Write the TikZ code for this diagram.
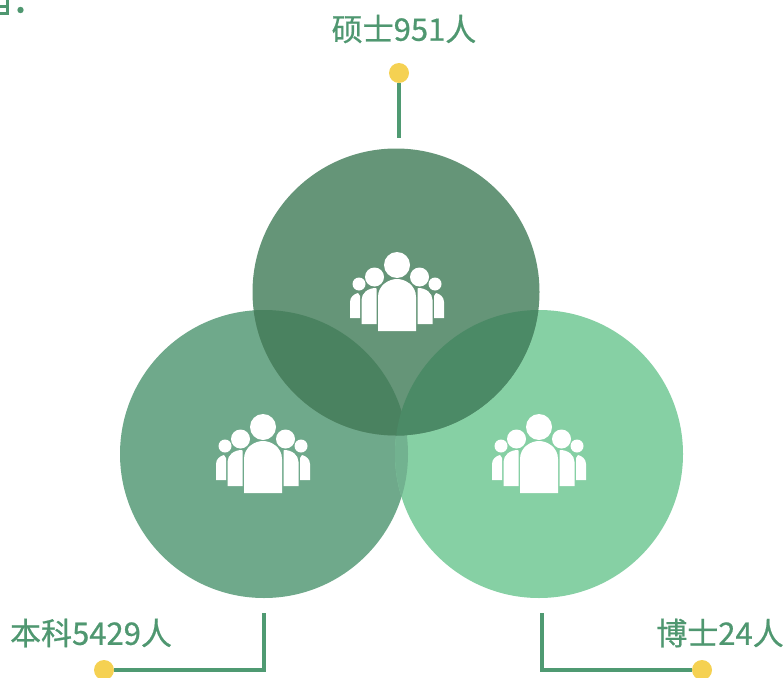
\documentclass[tikz,border=0pt]{standalone}
\usepackage{fontspec}
\newfontfamily\cjk[FakeBold=0.7]{Noto Sans CJK SC}
\definecolor{topc}{HTML}{659578}
\definecolor{leftc}{HTML}{6FA98B}
\definecolor{rightc}{HTML}{86D0A4}
\definecolor{ovl}{HTML}{4A8260}
\definecolor{ovr}{HTML}{4B8A66}
\definecolor{ovb}{HTML}{72B290}
\definecolor{linec}{HTML}{4F9A72}
\definecolor{txtc}{HTML}{4F9770}
\definecolor{dotc}{HTML}{F5D152}
\tikzset{
  x=1pt,y=-1pt,
  bigcirc/.style={circle,inner sep=0pt,minimum size=288pt,fill=#1},
  dotn/.style={circle,inner sep=0pt,minimum size=20pt,fill=dotc},
  lab/.style={font=\cjk\fontsize{31}{31}\selectfont,text=txtc,inner sep=0pt,anchor=center},
  conn/.style={draw=linec,line width=3.6pt,line join=miter},
  people/.pic={
    \fill[white] (0,1) circle (13);
    \fill[white] (-22.5,13) circle (9.5);
    \fill[white] (22.5,13) circle (9.5);
    \fill[white] (-38,20) circle (6.5);
    \fill[white] (38,20) circle (6.5);
    \fill[white] (-19,67) -- (-19,33) .. controls (-19,21) and (-8,15) .. (0,15) .. controls (8,15) and (19,21) .. (19,33) -- (19,67) -- cycle;
    \fill[white] (-35.5,60) -- (-35.5,36) .. controls (-35.5,29) and (-29,24) .. (-21,24) -- (-20.5,25) .. controls (-20.5,27) and (-20.5,30) .. (-20.5,33) -- (-20.5,60) -- cycle;
    \fill[white] (35.5,60) -- (35.5,36) .. controls (35.5,29) and (29,24) .. (21,24) -- (20.5,25) .. controls (20.5,27) and (20.5,30) .. (20.5,33) -- (20.5,60) -- cycle;
    \fill[white] (-47,54) -- (-47,38) .. controls (-47,33) and (-43,30) .. (-39,29) -- (-37,32) -- (-37,54) -- cycle;
    \fill[white] (47,54) -- (47,38) .. controls (47,33) and (43,30) .. (39,29) -- (37,32) -- (37,54) -- cycle;
  }
}
\begin{document}
\begin{tikzpicture}
\useasboundingbox (0,0) rectangle (784,677);
\node[bigcirc=leftc] (cl) at (264,454) {};
\node[bigcirc=rightc] (cr) at (539,454) {};
\begin{scope}
  \clip (264,454) circle (144);
  \fill[ovb] (539,454) circle (144);
\end{scope}
\node[bigcirc=topc,minimum size=287pt] (ct) at (396,292) {};
\begin{scope}
  \clip (396,292) circle (143.5);
  \fill[ovl] (264,454) circle (144);
  \fill[ovr] (539,454) circle (144);
\end{scope}
\pic at (397,264) {people};
\pic at (263,426) {people};
\pic at (539,426) {people};
% connectors
\coordinate (tEnd) at (399,138);
\coordinate (lEnd) at (264,613);
\coordinate (rEnd) at (542,613);
\node[dotn] (dt) at (399,73) {};
\node[dotn] (dl) at (104,670) {};
\node[dotn] (dr) at (702,670) {};
\draw[conn] (dt) -- (tEnd);
\draw[conn] (lEnd) |- (dl);
\draw[conn] (rEnd) |- (dr);
\node[lab] (lt) at (404,29) {硕士951人};
\node[lab] (ll) at (91,633) {本科5429人};
\node[lab] (lr) at (720,633) {博士24人};
% cropped remnant of text at the top left corner
\fill[txtc] (20.5,10) circle (3.2);
\draw[txtc,line width=3pt] (7,0) -- (7,14) -- (0,14) (0,7) -- (7,7);
\end{tikzpicture}
\end{document}
